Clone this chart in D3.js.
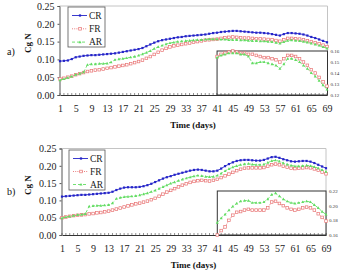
<!DOCTYPE html>
<html>
<head>
<meta charset="utf-8">
<script src="https://cdn.jsdelivr.net/npm/d3@7"></script>
<style>
  body { margin: 0; background: #fff; }
  svg { display: block; font-family: "Liberation Serif", "Times New Roman", serif; }
</style>
</head>
<body>
<script>
// days 1..69
const days = d3.range(1, 70);
const insetDays = d3.range(41, 70);
const xTicks = [1, 5, 9, 13, 17, 21, 25, 29, 33, 37, 41, 45, 49, 53, 57, 61, 65, 69];
const yTicks = [0, 0.05, 0.10, 0.15, 0.20, 0.25];

// panel a
const crA = [.095,.096,.097,.101,.106,.108,.110,.111,.112,.112,.113,.114,.115,.116,.117,.119,.121,.123,.125,.127,
  .129,.132,.137,.142,.147,.151,.154,.156,.158,.160,.162,.163,.165,.166,.167,.168,.169,.170,.172,.174,
  .175,.177,.178,.179,.180,.180,.179,.178,.177,.176,.175,.175,.174,.173,.171,.169,.167,.171,.174,.174,
  .173,.172,.170,.167,.163,.160,.156,.152,.148];
const frA = [.045,.047,.050,.053,.057,.060,.063,.066,.068,.070,.071,.073,.075,.077,.079,.081,.083,.085,.088,.091,
  .094,.098,.103,.108,.114,.120,.126,.131,.135,.138,.140,.142,.144,.146,.148,.150,.152,.154,.155,.156,
  .157,.159,.161,.162,.163,.162,.161,.160,.160,.159,.158,.158,.157,.156,.155,.153,.151,.155,.159,.159,
  .158,.157,.155,.152,.150,.147,.144,.140,.136];
const arA = [.042,.045,.049,.052,.057,.060,.064,.085,.087,.087,.088,.088,.089,.092,.099,.101,.102,.104,.106,.108,
  .111,.115,.119,.124,.130,.135,.139,.143,.146,.148,.150,.151,.152,.153,.154,.155,.155,.156,.157,.157,
  .157,.156,.156,.155,.155,.155,.154,.154,.153,.152,.152,.151,.151,.150,.149,.147,.145,.149,.153,.154,
  .153,.152,.150,.148,.145,.142,.139,.135,.131];
const frInsetA = [.155,.157,.158,.159,.160,.159,.158,.158,.157,.157,.156,.155,.154,.154,.153,.152,.150,.153,.156,.156,
  .155,.153,.150,.147,.143,.140,.136,.132,.128];
const arInsetA = [.154,.156,.157,.158,.158,.158,.157,.157,.155,.149,.149,.150,.150,.149,.148,.147,.144,.148,.153,.153,
  .152,.150,.147,.144,.140,.137,.133,.129,.125];
const insetTicksA = [0.12, 0.13, 0.14, 0.15, 0.16];

// panel b
const crB = [.111,.112,.113,.114,.115,.116,.116,.117,.118,.119,.120,.121,.122,.125,.130,.134,.137,.138,.138,.138,
  .139,.141,.144,.148,.153,.158,.163,.167,.170,.174,.177,.180,.183,.186,.188,.189,.188,.186,.184,.184,
  .186,.192,.199,.205,.210,.214,.216,.217,.217,.216,.215,.215,.217,.221,.225,.226,.223,.219,.216,.213,
  .212,.213,.214,.214,.212,.208,.203,.198,.193];
const frB = [.050,.052,.054,.056,.057,.058,.059,.061,.062,.064,.065,.067,.069,.072,.075,.078,.081,.084,.087,.090,
  .092,.095,.098,.102,.106,.112,.118,.124,.129,.134,.139,.144,.148,.152,.155,.157,.158,.157,.156,.158,
  .161,.166,.171,.176,.181,.186,.190,.193,.194,.194,.194,.194,.195,.199,.203,.205,.203,.199,.196,.193,
  .192,.193,.194,.195,.194,.191,.187,.182,.177];
const arB = [.049,.052,.054,.056,.058,.059,.061,.083,.084,.085,.085,.086,.087,.092,.105,.108,.110,.111,.112,.113,
  .115,.118,.121,.125,.129,.134,.139,.144,.149,.153,.157,.161,.164,.167,.170,.172,.171,.169,.168,.169,
  .172,.178,.185,.191,.196,.200,.203,.205,.206,.204,.203,.203,.204,.209,.214,.216,.213,.208,.204,.201,
  .199,.199,.200,.201,.200,.197,.193,.188,.183];
const frInsetB = [.160,.166,.171,.180,.187,.191,.192,.194,.195,.194,.194,.194,.194,.197,.205,.206,.203,.200,.197,.195,
  .194,.195,.197,.198,.197,.194,.189,.184,.179];
const arInsetB = [.177,.183,.188,.194,.199,.203,.206,.207,.207,.204,.204,.204,.205,.209,.215,.217,.213,.209,.206,.204,
  .203,.204,.205,.206,.205,.201,.197,.192,.188];
const insetTicksB = [0.16, 0.18, 0.20, 0.22];

const seriesNames = ["CR", "FR", "AR"];
const styles = {
  CR: {color: "#2424c8", dash: null, marker: "dot"},
  FR: {color: "#e87474", dash: "1,1.2", marker: "square"},
  AR: {color: "#62dc62", dash: "3,2", marker: "tri"}
};

const svg = d3.select("body").append("svg")
  .attr("width", 341)
  .attr("height", 273);

const drawMarkers = (g, pts, name) => {
  const st = styles[name];
  if (st.marker === "dot") {
    g.selectAll(".m").data(pts).enter().append("rect")
      .attr("x", d => d[0] - 1.1).attr("y", d => d[1] - 1.1)
      .attr("width", 2.2).attr("height", 2.2)
      .attr("fill", st.color);
  } else if (st.marker === "square") {
    g.selectAll(".m").data(pts).enter().append("rect")
      .attr("x", d => d[0] - 1.3).attr("y", d => d[1] - 1.3)
      .attr("width", 2.6).attr("height", 2.6)
      .attr("fill", "#fff").attr("stroke", st.color).attr("stroke-width", 0.7);
  } else {
    g.selectAll(".m").data(pts).enter().append("path")
      .attr("d", d => `M${d[0]},${d[1] - 1.6}L${d[0] + 1.5},${d[1] + 1.1}L${d[0] - 1.5},${d[1] + 1.1}Z`)
      .attr("fill", st.color);
  }
};

const drawSeries = (g, xs, ys, vals, name) => {
  const st = styles[name];
  const pts = vals.map((v, i) => [xs(i), ys(v)]);
  g.append("path")
    .attr("d", d3.line()(pts))
    .attr("fill", "none")
    .attr("stroke", st.color)
    .attr("stroke-width", 0.9)
    .attr("stroke-dasharray", st.dash);
  drawMarkers(g.append("g"), pts, name);
};

const drawPanel = (p) => {
  const x = d3.scaleLinear().domain([1, 69]).range([p.x0, p.x1]);
  const y = d3.scaleLinear().domain([0, 0.25]).range([p.yBottom, p.yTop]);
  const g = svg.append("g");

  // frame
  g.append("path")
    .attr("d", `M${p.axisX},${p.yTop}H${p.right}V${p.yBottom}`)
    .attr("fill", "none").attr("stroke", "#c4c4c4").attr("stroke-width", 1);

  // y axis
  const ya = g.append("g")
    .attr("transform", `translate(${p.axisX},0)`)
    .call(d3.axisLeft(y).tickValues(yTicks).tickFormat(d3.format(".2f")).tickSize(2).tickPadding(3));
  ya.select(".domain").attr("stroke", "#555");
  ya.selectAll(".tick line").attr("stroke", "#555");
  ya.selectAll("text").attr("font-size", 10).attr("font-family", "Liberation Serif").attr("fill", "#222");

  // x axis
  const xa = g.append("g")
    .attr("transform", `translate(0,${p.yBottom})`)
    .call(d3.axisBottom(x).tickValues(xTicks).tickFormat(d3.format("d")).tickSize(0).tickPadding(10));
  xa.select(".domain").attr("stroke", "#333");
  xa.selectAll("text").attr("font-size", 10).attr("font-family", "Liberation Serif").attr("fill", "#222");
  g.append("g").selectAll("line").data(days).enter().append("line")
    .attr("x1", d => x(d)).attr("x2", d => x(d))
    .attr("y1", p.yBottom).attr("y2", p.yBottom - 2)
    .attr("stroke", "#444").attr("stroke-width", 0.6);

  // main series
  const valsMain = {CR: p.cr, FR: p.fr, AR: p.ar};
  seriesNames.forEach(n => drawSeries(g, i => x(days[i]), y, valsMain[n], n));

  // inset
  const yi = d3.scaleLinear().domain(p.insetDomain).range([p.yBottom, p.insetTop]);
  const ix0 = x(41);
  g.append("rect")
    .attr("x", ix0).attr("y", p.insetTop)
    .attr("width", p.right - ix0).attr("height", p.yBottom - p.insetTop)
    .attr("fill", "#fff").attr("stroke", "#333").attr("stroke-width", 1);
  const ia = g.append("g")
    .attr("transform", `translate(${p.right},0)`)
    .call(d3.axisRight(yi).tickValues(p.insetTicks).tickFormat(d3.format(".2f")).tickSize(0).tickPadding(3));
  ia.select(".domain").remove();
  ia.selectAll("text").attr("font-size", 5).attr("font-family", "Liberation Serif").attr("fill", "#333");
  g.append("g").selectAll("line").data(insetDays).enter().append("line")
    .attr("x1", d => x(d)).attr("x2", d => x(d))
    .attr("y1", p.yBottom).attr("y2", p.yBottom - 2)
    .attr("stroke", "#444").attr("stroke-width", 0.6);
  drawSeries(g, i => x(insetDays[i]), yi, p.frInset, "FR");
  drawSeries(g, i => x(insetDays[i]), yi, p.arInset, "AR");

  // legend
  const lg = g.append("g");
  lg.append("rect")
    .attr("x", p.leg[0]).attr("y", p.leg[1])
    .attr("width", p.leg[2]).attr("height", p.leg[3])
    .attr("fill", "#fff").attr("stroke", "#555").attr("stroke-width", 0.8);
  seriesNames.forEach((n, i) => {
    const ly = p.leg[1] + 8.5 + i * p.legStep;
    const st = styles[n];
    lg.append("line")
      .attr("x1", p.leg[0] + 4).attr("x2", p.leg[0] + 19)
      .attr("y1", ly).attr("y2", ly)
      .attr("stroke", st.color).attr("stroke-width", 0.9)
      .attr("stroke-dasharray", st.dash);
    drawMarkers(lg.append("g"), [[p.leg[0] + 12, ly]], n);
    lg.append("text")
      .attr("x", p.leg[0] + 21).attr("y", ly + 3.3)
      .attr("font-size", 9.5).attr("fill", "#222")
      .text(n);
  });

  // titles
  g.append("text")
    .attr("x", (p.x0 + p.x1) / 2 - 0.5).attr("y", p.titleY)
    .attr("text-anchor", "middle").attr("font-size", 9).attr("font-weight", "bold")
    .attr("fill", "#111")
    .text("Time (days)");
  g.append("text")
    .attr("transform", `translate(31,${p.ylabY}) rotate(-90)`)
    .attr("text-anchor", "middle").attr("font-size", 9).attr("font-weight", "bold")
    .attr("fill", "#111")
    .text("Cg N");
  g.append("text")
    .attr("x", 7).attr("y", p.tagY)
    .attr("font-size", 10).attr("fill", "#111")
    .text(p.tag);
};

drawPanel({
  tag: "a)", tagY: 55, ylabY: 43,
  x0: 60, x1: 327, axisX: 59.5, right: 327.5,
  yTop: 6, yBottom: 95, titleY: 128,
  cr: crA, fr: frA, ar: arA,
  frInset: frInsetA, arInset: arInsetA,
  insetDomain: [0.12, 0.16], insetTop: 51, insetTicks: insetTicksA,
  leg: [68, 7, 37, 40], legStep: 13.3
});

drawPanel({
  tag: "b)", tagY: 195, ylabY: 185,
  x0: 62, x1: 326, axisX: 61.5, right: 326,
  yTop: 148.5, yBottom: 235, titleY: 268,
  cr: crB, fr: frB, ar: arB,
  frInset: frInsetB, arInset: arInsetB,
  insetDomain: [0.16, 0.22], insetTop: 191, insetTicks: insetTicksB,
  leg: [69, 150, 36, 40], legStep: 13
});
</script>
</body>
</html>
